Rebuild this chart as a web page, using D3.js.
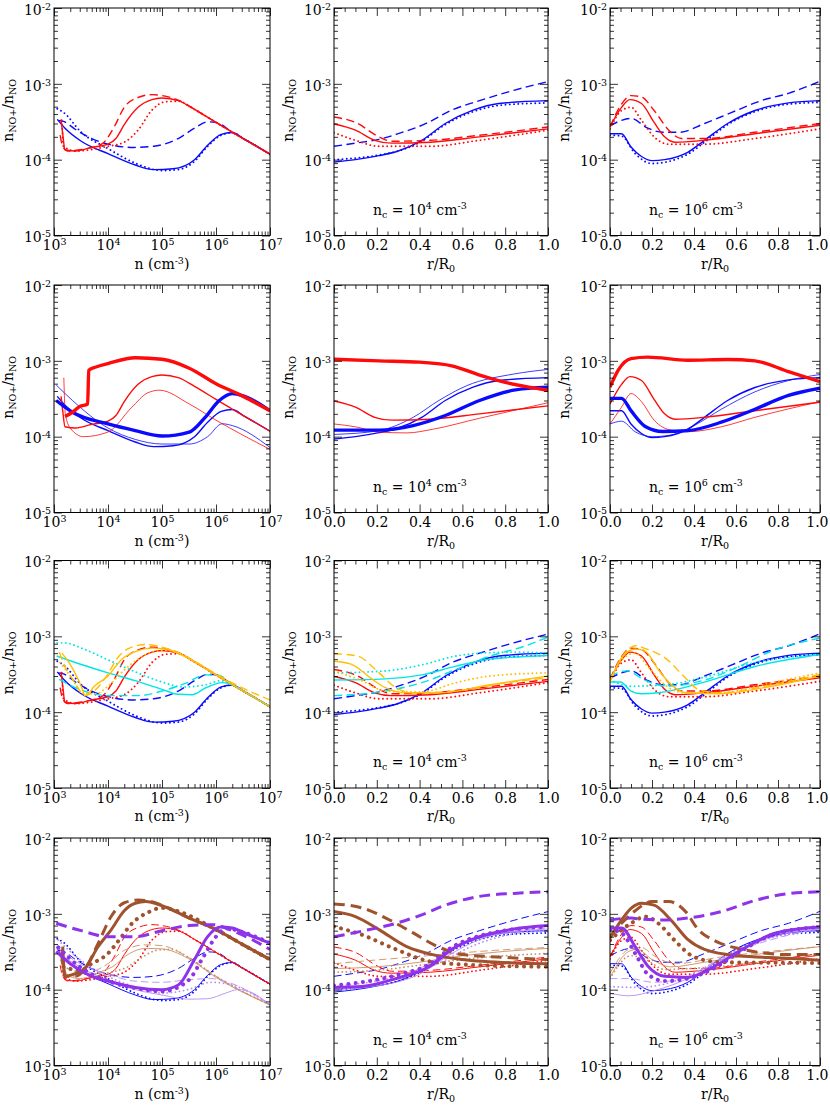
<!DOCTYPE html>
<html>
<head>
<meta charset="utf-8">
<script src="https://cdn.jsdelivr.net/npm/d3@7"></script>
<style>
  body { margin: 0; background: #fff; }
  svg { display: block; }
  text { fill: #000; white-space: pre; }
</style>
</head>
<body>
<div class="chart"></div>
<script>
// ---- data: each curve is a list of [x, n(NO+)/n(NO)] ; order in each trio = solid, dotted, dashed
// x = n (cm^-3) for the density panels, x = r/R0 for the profile panels

// density panels (left column)
const dens_blue = [
  [[1.15e3,3.4e-4],[1.6e3,2.6e-4],[3.2e3,1.75e-4],[1e4,1.2e-4],[3.2e4,8.5e-5],[7e4,7.4e-5],[1.6e5,7.6e-5],[4e5,1e-4],[7e5,1.55e-4],[1.25e6,2.15e-4],[2e6,2.28e-4],[3.2e6,1.9e-4],[1e7,1.18e-4]],
  [[1.15e3,4.7e-4],[1.5e3,4.2e-4],[3.2e3,2.3e-4],[1e4,1.4e-4],[3.2e4,9e-5],[1e5,7.2e-5],[2e5,7.4e-5],[4e5,9.5e-5],[7e5,1.5e-4],[1.25e6,2.1e-4],[2e6,2.27e-4],[3.2e6,1.9e-4],[1e7,1.18e-4]],
  [[1.2e3,3.3e-4],[1.5e3,3.2e-4],[2.5e3,2.5e-4],[5e3,1.9e-4],[1e4,1.6e-4],[3e4,1.45e-4],[7e4,1.5e-4],[2e5,1.9e-4],[4e5,2.6e-4],[7e5,3.15e-4],[1e6,3.1e-4],[2e6,2.3e-4],[3.2e6,1.9e-4],[1e7,1.18e-4]]
];
const dens_red = [
  [[1.35e3,3.4e-4],[1.45e3,2.2e-4],[1.6e3,1.35e-4],[2.5e3,1.3e-4],[5e3,1.45e-4],[1e4,1.6e-4],[1.4e4,1.9e-4],[2e4,2.9e-4],[3.6e4,4.9e-4],[6.5e4,6.2e-4],[1e5,6.5e-4],[2e5,6e-4],[4e5,4.6e-4],[1e6,3.1e-4],[2e6,2.3e-4],[3.2e6,1.9e-4],[1e7,1.18e-4]],
  [[1.4e3,3.3e-4],[1.5e3,1.5e-4],[2.5e3,1.3e-4],[1e4,1.5e-4],[2e4,1.7e-4],[3.6e4,2.45e-4],[6.5e4,4.5e-4],[1.15e5,5.8e-4],[2e5,5.9e-4],[4e5,4.6e-4],[1e6,3.1e-4],[2e6,2.3e-4],[3.2e6,1.9e-4],[1e7,1.18e-4]],
  [[1.3e3,2.1e-4],[1.45e3,1.5e-4],[1.8e3,1.3e-4],[3e3,1.35e-4],[7.6e3,1.6e-4],[1.3e4,2.7e-4],[2e4,4.9e-4],[3.6e4,6.6e-4],[6.5e4,7.2e-4],[1e5,7e-4],[2e5,6.1e-4],[4e5,4.6e-4],[1e6,3.1e-4],[2e6,2.3e-4],[3.2e6,1.9e-4],[1e7,1.18e-4]]
];
const dens_cyan = [
  [[1.12e3,5.5e-4],[3.2e3,4.25e-4],[1e4,3.3e-4],[3.2e4,2.6e-4],[1e5,2e-4],[2e5,1.72e-4],[3.6e5,1.7e-4],[6.5e5,2.1e-4],[1.3e6,2.45e-4],[2e6,2.3e-4],[3.2e6,1.9e-4],[1e7,1.18e-4]],
  [[1.15e3,8.2e-4],[1.6e3,8.2e-4],[3.2e3,7e-4],[1e4,4.9e-4],[3.2e4,3.4e-4],[1e5,2.5e-4],[2.5e5,2.15e-4],[6.5e5,2.3e-4],[1.2e6,2.6e-4],[2e6,2.3e-4],[3.2e6,1.9e-4],[1e7,1.18e-4]],
  [[1.25e3,2.7e-4],[3.6e3,1.9e-4],[1e4,1.65e-4],[3.6e4,1.65e-4],[1e5,1.9e-4],[2.7e5,2.4e-4],[6.5e5,3.1e-4],[1.15e6,3.05e-4],[2e6,2.3e-4],[3.2e6,1.9e-4],[1e7,1.18e-4]]
];
const dens_gold = [
  [[1.4e3,6e-4],[1.9e3,4.5e-4],[3.2e3,2.2e-4],[3.8e3,1.65e-4],[5.6e3,2.2e-4],[1e4,3e-4],[1.8e4,5e-4],[3.2e4,6.3e-4],[6.5e4,7e-4],[1.15e5,6.8e-4],[2.7e5,5.4e-4],[4e5,4.6e-4],[1e6,3.1e-4],[2e6,2.3e-4],[3.2e6,1.9e-4],[1e7,1.18e-4]],
  [[1.3e3,4.5e-4],[2e3,3e-4],[3.6e3,1.75e-4],[6e3,1.75e-4],[1e4,2.2e-4],[2e4,3.6e-4],[3.6e4,5e-4],[6.5e4,6.2e-4],[1.2e5,6.5e-4],[2e5,6e-4],[4e5,4.6e-4],[1e6,3.1e-4],[2e6,2.3e-4],[3.2e6,1.9e-4],[1e7,1.18e-4]],
  [[1.25e3,6.2e-4],[1.6e3,4e-4],[2.5e3,2.4e-4],[3.6e3,1.65e-4],[6e3,2e-4],[1e4,3.2e-4],[1.5e4,5.2e-4],[2.5e4,7e-4],[5e4,7.8e-4],[1e5,7.2e-4],[2e5,6.1e-4],[4e5,4.7e-4],[1e6,3.2e-4],[3e6,2.1e-4],[1e7,1.45e-4]]
];
const dens_blueThin = [[1.1e3,4.8e-4],[2.2e3,3e-4],[1e4,1.3e-4],[3.2e4,9.2e-5],[1e5,8e-5],[3.2e5,8e-5],[7e5,1e-4],[1.3e6,1.48e-4],[2e6,1.4e-4],[1e7,7.2e-5]];
const dens_blueThick = [[1.1e3,3e-4],[2.2e3,2.1e-4],[1e4,1.47e-4],[3.2e4,1.2e-4],[1e5,1.02e-4],[3.2e5,1.15e-4],[6.3e5,1.8e-4],[1.15e6,3e-4],[2e6,3.7e-4],[3.2e6,3.45e-4],[1e7,2.2e-4]];
const dens_redThin = [[1.52e3,6e-4],[1.62e3,2e-4],[2e3,1.3e-4],[3.5e3,1e-4],[1e4,1.15e-4],[2.7e4,2.4e-4],[5.5e4,3.8e-4],[9e4,4.1e-4],[3.2e5,2.7e-4],[1e6,1.65e-4],[1e7,6.8e-5]];
const dens_redThick = [[1.6e3,1.85e-4],[2.2e3,2.1e-4],[3e3,2.5e-4],[4.2e3,2.7e-4],[4.4e3,7.5e-4],[6e3,8.3e-4],[1e4,9.2e-4],[3.2e4,1.1e-3],[1e5,1.05e-3],[3.2e5,8e-4],[1e6,5e-4],[3.2e6,3.4e-4],[1e7,2.2e-4]];
const dens_brown = [
  [[1.45e3,3.7e-4],[1.6e3,1.5e-4],[2.3e3,1.6e-4],[3.6e3,1.85e-4],[6.5e3,3.65e-4],[1.15e4,6.2e-4],[2e4,1.1e-3],[3.2e4,1.38e-3],[5e4,1.45e-3],[1e5,1.28e-3],[3.2e5,8.8e-4],[1e6,6.2e-4],[3.2e6,3.9e-4],[1e7,2.5e-4]],
  [[1.5e3,2e-4],[3e3,1.8e-4],[5e3,2.2e-4],[1e4,3e-4],[1.6e4,4.5e-4],[2.8e4,7.5e-4],[5.6e4,1.05e-3],[1e5,1.2e-3],[2e5,1.08e-3],[1e6,6.2e-4],[3.2e6,3.9e-4],[1e7,2.5e-4]],
  [[1.4e3,3e-4],[1.6e3,1.5e-4],[2.5e3,1.5e-4],[3.6e3,1.8e-4],[6.5e3,4e-4],[1.15e4,9.3e-4],[2e4,1.4e-3],[3.6e4,1.52e-3],[6.5e4,1.45e-3],[1e5,1.3e-3],[3.2e5,8.8e-4],[1e6,6.2e-4],[3.2e6,3.9e-4],[1e7,2.5e-4]]
];
const dens_tan = [
  [[1.3e3,3e-4],[1.6e3,1.6e-4],[3e3,1.4e-4],[7e3,1.7e-4],[1.2e4,2e-4],[2.5e4,3e-4],[5e4,3.5e-4],[1e5,3.45e-4],[3e5,2.6e-4],[1e6,1.45e-4],[1e7,6.3e-5]],
  [[1.5e3,2e-4],[5e3,1.6e-4],[2e4,1.9e-4],[4e4,2.6e-4],[8e4,3.3e-4],[1.5e5,3.4e-4],[3e5,2.7e-4],[1e6,1.5e-4],[1e7,6.3e-5]],
  [[1.3e3,2.5e-4],[2e3,1.5e-4],[5e3,1.7e-4],[1e4,2.2e-4],[2e4,3.3e-4],[5e4,3.9e-4],[1e5,3.8e-4],[3e5,2.7e-4],[1e6,1.5e-4],[1e7,6.3e-5]]
];
const dens_purple = [
  [[1.1e3,3.2e-4],[2e3,2.2e-4],[5e3,1.5e-4],[1e4,1.3e-4],[3.2e4,1.07e-4],[1e5,1e-4],[2e5,1.15e-4],[4e5,2.5e-4],[7e5,5e-4],[1.2e6,6.7e-4],[2e6,6.5e-4],[4e6,5.3e-4],[1e7,4.1e-4]],
  [[1.2e3,3.6e-4],[3e3,2e-4],[1e4,1.3e-4],[3.2e4,1.05e-4],[1e5,9.5e-5],[3e5,1.3e-4],[6e5,2.8e-4],[1e6,5e-4],[1.6e6,6.4e-4],[3e6,5.8e-4],[1e7,4.1e-4]],
  [[1.1e3,7.5e-4],[3.2e3,6e-4],[1e4,5e-4],[3.2e4,5e-4],[1e5,6e-4],[3.2e5,7e-4],[8.7e5,7.2e-4],[2e6,6e-4],[1e7,3.4e-4]]
];
const dens_lilac = [
  [[1.2e3,3e-4],[3e3,2e-4],[1e4,1.3e-4],[3.2e4,1e-4],[1e5,8.5e-5],[3e5,7.5e-5],[7e5,7.6e-5],[1.5e6,9e-5],[2.5e6,1e-4],[4e6,9.5e-5],[1e7,6.3e-5]],
  [[1.2e3,4.5e-4],[3e3,2.5e-4],[1e4,1.5e-4],[3e4,1.1e-4],[1e5,9e-5],[3e5,1e-4],[8e5,1.25e-4],[2e6,1.15e-4],[1e7,6.3e-5]],
  [[1.2e3,3.5e-4],[3e3,2.2e-4],[1e4,1.6e-4],[3e4,1.3e-4],[1e5,1.25e-4],[3e5,1.35e-4],[8e5,1.4e-4],[2e6,1.2e-4],[1e7,6.3e-5]]
];

// profile panels, n_c = 1e4 cm^-3 (middle column)
const nc4_blue = [
  [[0,9.3e-5],[0.1,1e-4],[0.21,1.13e-4],[0.3,1.3e-4],[0.41,1.8e-4],[0.52,3e-4],[0.65,4.5e-4],[0.77,5.5e-4],[1,6e-4]],
  [[0,1e-4],[0.1,1.05e-4],[0.21,1.15e-4],[0.3,1.3e-4],[0.41,1.75e-4],[0.52,2.9e-4],[0.65,4.3e-4],[0.8,5.3e-4],[1,5.6e-4]],
  [[0,1.5e-4],[0.1,1.65e-4],[0.21,1.85e-4],[0.3,2.2e-4],[0.43,3e-4],[0.55,4.5e-4],[0.68,6e-4],[0.84,8.2e-4],[1,1.07e-3]]
];
const nc4_red = [
  [[0,2.95e-4],[0.1,2.45e-4],[0.19,1.8e-4],[0.27,1.65e-4],[0.45,1.7e-4],[0.68,2e-4],[1,2.55e-4]],
  [[0,2.27e-4],[0.1,1.8e-4],[0.21,1.5e-4],[0.45,1.5e-4],[0.68,1.8e-4],[1,2.45e-4]],
  [[0,3.65e-4],[0.1,3.1e-4],[0.21,2e-4],[0.27,1.75e-4],[0.45,1.8e-4],[0.68,2.1e-4],[1,2.7e-4]]
];
const nc4_cyan = [
  [[0,2.65e-4],[0.24,2.75e-4],[0.41,3.1e-4],[0.57,4.05e-4],[0.73,5e-4],[1,5.6e-4]],
  [[0,3.3e-4],[0.24,3.5e-4],[0.41,4.2e-4],[0.57,5.5e-4],[0.73,6.1e-4],[0.85,6.2e-4],[1,6e-4]],
  [[0,1.65e-4],[0.24,1.9e-4],[0.41,2.45e-4],[0.57,3.65e-4],[0.73,5.5e-4],[0.89,7.4e-4],[1,9.8e-4]]
];
const nc4_gold = [
  [[0,4.7e-4],[0.08,4.3e-4],[0.18,2.7e-4],[0.24,2.1e-4],[0.33,1.8e-4],[0.49,1.8e-4],[0.73,2.3e-4],[1,3e-4]],
  [[0,3.5e-4],[0.13,2.6e-4],[0.24,1.9e-4],[0.41,1.85e-4],[0.57,2.45e-4],[0.73,3e-4],[1,3.3e-4]],
  [[0,5.9e-4],[0.11,5.5e-4],[0.21,3.3e-4],[0.29,2.1e-4],[0.37,1.8e-4],[0.57,1.9e-4],[0.81,2.45e-4],[1,2.85e-4]]
];
const nc4_blueThin = [[0,1.07e-4],[0.21,1.2e-4],[0.37,1.8e-4],[0.49,3e-4],[0.62,4.7e-4],[0.84,6.7e-4],[1,7.7e-4]];
const nc4_blueThick = [[0,1.22e-4],[0.21,1.22e-4],[0.37,1.4e-4],[0.52,1.9e-4],[0.68,3e-4],[0.84,4.1e-4],[1,4.5e-4]];
const nc4_redThin = [[0,1.47e-4],[0.1,1.35e-4],[0.21,1.15e-4],[0.34,1.12e-4],[0.46,1.25e-4],[0.68,1.75e-4],[1,2.8e-4]];
const nc4_redThick = [[0,1.05e-3],[0.21,1e-3],[0.4,9.6e-4],[0.55,8.6e-4],[0.68,6.5e-4],[0.8,5.2e-4],[0.91,4.5e-4],[1,4.1e-4]];
const nc4_brown = [
  [[0,1.07e-3],[0.1,9.2e-4],[0.21,6.2e-4],[0.34,3.7e-4],[0.46,2.9e-4],[0.6,2.5e-4],[0.84,2.25e-4],[1,2.2e-4]],
  [[0,6.8e-4],[0.13,5.3e-4],[0.29,3.4e-4],[0.45,2.35e-4],[0.6,2.15e-4],[1,2e-4]],
  [[0,1.35e-3],[0.13,1.2e-3],[0.26,8.3e-4],[0.37,5.6e-4],[0.48,3.75e-4],[0.6,2.9e-4],[0.76,2.7e-4],[1,2.5e-4]]
];
const nc4_tan = [
  [[0,1.9e-4],[0.2,2e-4],[0.4,2.3e-4],[0.6,2.8e-4],[0.8,3.2e-4],[1,3.5e-4]],
  [[0,1.7e-4],[0.2,1.8e-4],[0.4,2.1e-4],[0.6,2.5e-4],[0.8,2.8e-4],[1,3e-4]],
  [[0,2.2e-4],[0.15,2.4e-4],[0.3,2.6e-4],[0.5,2.9e-4],[0.75,3.3e-4],[1,3.6e-4]]
];
const nc4_purple = [
  [[0,1.07e-4],[0.13,1.1e-4],[0.29,1.4e-4],[0.45,2.05e-4],[0.55,3.4e-4],[0.68,5e-4],[0.84,6.3e-4],[1,7e-4]],
  [[0,1.13e-4],[0.29,1.55e-4],[0.45,2.2e-4],[0.55,3.6e-4],[0.7,5.3e-4],[1,6.8e-4]],
  [[0,5e-4],[0.13,5.9e-4],[0.29,7.5e-4],[0.41,9.7e-4],[0.52,1.3e-3],[0.68,1.7e-3],[0.84,1.86e-3],[1,1.95e-3]]
];
const nc4_lilac = [
  [[0,1e-4],[0.2,1.12e-4],[0.4,1.6e-4],[0.55,3e-4],[0.7,4.8e-4],[0.85,5.8e-4],[1,6.3e-4]],
  [[0,1.1e-4],[0.2,1.3e-4],[0.35,1.6e-4],[0.5,2.3e-4],[0.65,3.8e-4],[0.85,5.5e-4],[1,6e-4]],
  [[0,1.05e-4],[0.2,1.2e-4],[0.4,1.9e-4],[0.55,3.3e-4],[0.7,5e-4],[1,6.5e-4]]
];

// profile panels, n_c = 1e6 cm^-3 (right column)
const nc6_blue = [
  [[0,2.2e-4],[0.055,2.2e-4],[0.1,1.47e-4],[0.15,1.1e-4],[0.2,9.7e-5],[0.26,1e-4],[0.37,1.25e-4],[0.45,1.8e-4],[0.56,3e-4],[0.69,4.45e-4],[0.85,5.6e-4],[1,6e-4]],
  [[0,2.1e-4],[0.055,2.05e-4],[0.12,1.2e-4],[0.2,8.9e-5],[0.37,1.18e-4],[0.45,1.7e-4],[0.56,2.9e-4],[0.69,4.3e-4],[0.85,5.4e-4],[1,5.7e-4]],
  [[0,2.8e-4],[0.055,3.3e-4],[0.1,3.5e-4],[0.18,2.6e-4],[0.25,2.3e-4],[0.33,2.3e-4],[0.45,3e-4],[0.58,4.2e-4],[0.72,6e-4],[0.85,7.5e-4],[1,1.08e-3]]
];
const nc6_red = [
  [[0,2.7e-4],[0.055,4.9e-4],[0.095,6.2e-4],[0.15,5.5e-4],[0.21,3.1e-4],[0.26,2e-4],[0.31,1.7e-4],[0.45,1.8e-4],[0.69,2.2e-4],[1,2.85e-4]],
  [[0,2.55e-4],[0.055,4.45e-4],[0.1,4.9e-4],[0.15,3.3e-4],[0.21,2e-4],[0.28,1.6e-4],[0.45,1.6e-4],[0.69,1.9e-4],[1,2.55e-4]],
  [[0,2.7e-4],[0.055,5.4e-4],[0.1,7e-4],[0.15,6.7e-4],[0.21,4.45e-4],[0.28,2.45e-4],[0.34,1.9e-4],[0.45,1.9e-4],[0.69,2.3e-4],[1,3e-4]]
];
const nc6_cyan = [
  [[0,2.5e-4],[0.05,2.5e-4],[0.1,1.9e-4],[0.15,1.75e-4],[0.23,1.8e-4],[0.44,2.45e-4],[0.69,4e-4],[1,5.75e-4]],
  [[0,2.65e-4],[0.1,2.2e-4],[0.27,2.3e-4],[0.44,2.85e-4],[0.69,4.5e-4],[1,5.75e-4]],
  [[0,3e-4],[0.08,3.5e-4],[0.17,2.6e-4],[0.27,2.2e-4],[0.44,2.6e-4],[0.6,3.85e-4],[0.77,6.4e-4],[1,9.5e-4]]
];
const nc6_gold = [
  [[0,2.5e-4],[0.05,4.95e-4],[0.12,6.8e-4],[0.17,6.3e-4],[0.23,3.65e-4],[0.3,2.2e-4],[0.37,1.8e-4],[0.52,1.75e-4],[0.77,2.2e-4],[1,3e-4]],
  [[0,2.6e-4],[0.06,5e-4],[0.12,6e-4],[0.18,4e-4],[0.27,2.2e-4],[0.35,1.8e-4],[0.52,1.8e-4],[0.77,2.45e-4],[1,3.3e-4]],
  [[0,2.6e-4],[0.06,5.5e-4],[0.12,7.5e-4],[0.18,6.7e-4],[0.27,5e-4],[0.35,3e-4],[0.42,2e-4],[0.52,1.8e-4],[0.77,2.3e-4],[1,3.15e-4]]
];
const nc6_blueThin = [[0,1.47e-4],[0.055,1.6e-4],[0.12,1.16e-4],[0.2,1e-4],[0.29,1.05e-4],[0.4,1.4e-4],[0.53,2.3e-4],[0.69,3.9e-4],[0.85,5.5e-4],[1,6.6e-4]];
const nc6_blueThick = [[0,3.2e-4],[0.055,3.2e-4],[0.1,2.2e-4],[0.17,1.35e-4],[0.25,1.17e-4],[0.37,1.2e-4],[0.53,1.55e-4],[0.69,2.3e-4],[0.85,3.5e-4],[1,4.35e-4]];
const nc6_redThin = [[0,1.47e-4],[0.055,2.45e-4],[0.1,3.7e-4],[0.15,2.9e-4],[0.21,1.65e-4],[0.29,1.22e-4],[0.37,1.16e-4],[0.53,1.35e-4],[0.69,1.8e-4],[1,2.9e-4]];
const nc6_redThick = [[0,4.5e-4],[0.04,7.6e-4],[0.1,1.07e-3],[0.18,1.12e-3],[0.37,1.02e-3],[0.56,1.04e-3],[0.69,1e-3],[0.85,7.2e-4],[1,5.3e-4]];
const nc6_brown = [
  [[0,4.8e-4],[0.055,8.3e-4],[0.1,1.18e-3],[0.15,1.38e-3],[0.21,1.3e-3],[0.29,8.3e-4],[0.37,4.6e-4],[0.45,3.4e-4],[0.61,2.8e-4],[0.85,2.6e-4],[1,2.45e-4]],
  [[0,4.5e-4],[0.1,7.5e-4],[0.17,9.2e-4],[0.23,7.5e-4],[0.31,4.4e-4],[0.4,2.7e-4],[0.53,2.3e-4],[1,2.25e-4]],
  [[0,5e-4],[0.055,7.5e-4],[0.12,1.1e-3],[0.2,1.45e-3],[0.28,1.45e-3],[0.36,1.07e-3],[0.42,6.2e-4],[0.5,4.4e-4],[0.63,3.4e-4],[0.85,2.9e-4],[1,2.9e-4]]
];
const nc6_tan = [
  [[0,1.45e-4],[0.09,3.2e-4],[0.13,3.4e-4],[0.2,2.5e-4],[0.29,2e-4],[0.45,2.3e-4],[0.69,2.9e-4],[1,3.7e-4]],
  [[0,1.4e-4],[0.1,2.8e-4],[0.17,2.5e-4],[0.26,1.85e-4],[0.45,1.95e-4],[1,2.9e-4]],
  [[0,1.65e-4],[0.09,3.4e-4],[0.15,3.6e-4],[0.21,2.8e-4],[0.31,2.2e-4],[0.53,2.7e-4],[1,3.7e-4]]
];
const nc6_purple = [
  [[0,6.5e-4],[0.055,6.5e-4],[0.12,3.7e-4],[0.18,2.05e-4],[0.26,1.5e-4],[0.37,1.45e-4],[0.5,2.05e-4],[0.63,3.4e-4],[0.79,5.6e-4],[1,6.7e-4]],
  [[0,6.2e-4],[0.055,5.6e-4],[0.12,3e-4],[0.18,1.6e-4],[0.26,1.3e-4],[0.37,1.4e-4],[0.5,1.95e-4],[0.63,3.3e-4],[0.79,5.5e-4],[1,6.7e-4]],
  [[0,8.3e-4],[0.1,8.8e-4],[0.15,8.5e-4],[0.26,8.3e-4],[0.37,8.8e-4],[0.53,1.07e-3],[0.69,1.5e-3],[0.85,1.85e-3],[1,1.95e-3]]
];
const nc6_lilac = [
  [[0,9e-5],[0.09,8.3e-5],[0.21,9.7e-5],[0.37,1.4e-4],[0.53,2.5e-4],[0.69,4.1e-4],[0.85,5.6e-4],[1,6.3e-4]],
  [[0,1.1e-4],[0.13,1.07e-4],[0.29,1.25e-4],[0.45,1.95e-4],[0.61,3.4e-4],[1,6.2e-4]],
  [[0,1.4e-4],[0.09,1.4e-4],[0.21,1.25e-4],[0.37,1.5e-4],[0.53,2.6e-4],[1,6.5e-4]]
];

// tick values
const yMajor = [1e-5, 1e-4, 1e-3, 1e-2];
const nMajor = [1e3, 1e4, 1e5, 1e6, 1e7];
const rMajor = [0, 0.2, 0.4, 0.6, 0.8, 1.0];
const ncExp = [null, "4", "6"];

// ---- layout
var width = 830, height = 1107;
var colX = [[54, 270], [334, 548], [610, 820]];
var rowTop = [8, 285, 560.5, 838];
var ph = 227.5;
var fs = 14, fsSmall = 9.5;
var serif = "DejaVu Serif, serif";
var col = { blue: "#0a0aff", red: "#ff0a0a", cyan: "#00e6e6", gold: "#ffbf00",
            brown: "#a0522d", tan: "#c98f66", purple: "#8e33ea", lilac: "#b98cf0" };
var kinds = ["solid", "dot", "dash"];

var svg = d3.select(".chart").append("svg")
  .attr("width", width).attr("height", height)
  .attr("font-family", serif);

function trio(sets, color, w) {
  return sets.map(function(pts, i) { return { pts: pts, color: color, w: w, kind: kinds[i] }; });
}
function one(pts, color, w) { return [{ pts: pts, color: color, w: w, kind: "solid" }]; }

var blueSets = [dens_blue, nc4_blue, nc6_blue], redSets = [dens_red, nc4_red, nc6_red];
var cyanSets = [dens_cyan, nc4_cyan, nc6_cyan], goldSets = [dens_gold, nc4_gold, nc6_gold];
var brownSets = [dens_brown, nc4_brown, nc6_brown], tanSets = [dens_tan, nc4_tan, nc6_tan];
var purpleSets = [dens_purple, nc4_purple, nc6_purple], lilacSets = [dens_lilac, nc4_lilac, nc6_lilac];
var blueThin = [dens_blueThin, nc4_blueThin, nc6_blueThin], blueThick = [dens_blueThick, nc4_blueThick, nc6_blueThick];
var redThin = [dens_redThin, nc4_redThin, nc6_redThin], redThick = [dens_redThick, nc4_redThick, nc6_redThick];

function seriesFor(row, c) {
  if (row === 0) return [].concat(trio(blueSets[c], col.blue, 1.4), trio(redSets[c], col.red, 1.4));
  if (row === 1) return [].concat(
    one(blueThin[c], col.blue, 0.8), one(blueSets[c][0], col.blue, 1.4),
    one(redThin[c], col.red, 0.8), one(redSets[c][0], col.red, 1.4),
    one(blueThick[c], col.blue, 3.4), one(redThick[c], col.red, 3.4));
  if (row === 2) return [].concat(trio(blueSets[c], col.blue, 1.4), trio(redSets[c], col.red, 1.4),
    trio(cyanSets[c], col.cyan, 1.4), trio(goldSets[c], col.gold, 1.4));
  return [].concat(trio(blueSets[c], col.blue, 1.0), trio(redSets[c], col.red, 1.0),
    trio(tanSets[c], col.tan, 0.9), trio(lilacSets[c], col.lilac, 0.9),
    trio(brownSets[c], col.brown, 3.0), trio(purpleSets[c], col.purple, 3.0));
}

function logMinors(lo, hi) {
  var out = [];
  for (var k = lo; k < hi; k++) for (var d = 2; d <= 9; d++) out.push(d * Math.pow(10, k));
  return out;
}

function supLabel(sel, base, exp) {
  sel.text(base);
  sel.append("tspan").attr("dy", -5).attr("font-size", fsSmall).text(exp);
}

function styleAxis(g) {
  g.select(".domain").remove();
  g.selectAll(".tick line").attr("stroke", "#000").attr("stroke-width", 0.8);
  g.attr("font-family", serif).attr("font-size", fs);
}

function drawPanel(row, c) {
  var x0 = colX[c][0], x1 = colX[c][1];
  var y0 = rowTop[row], y1 = y0 + ph;
  var isLog = c === 0;
  var x = isLog ? d3.scaleLog().domain([1e3, 1e7]).range([x0, x1])
                : d3.scaleLinear().domain([0, 1]).range([x0, x1]);
  var y = d3.scaleLog().domain([1e-5, 1e-2]).range([y1, y0]);
  var id = "clip" + row + c;

  svg.append("clipPath").attr("id", id).append("rect")
    .attr("x", x0).attr("y", y0).attr("width", x1 - x0).attr("height", ph);

  var line = d3.line().x(function(d) { return x(d[0]); }).y(function(d) { return y(d[1]); })
    .curve(d3.curveMonotoneX);

  var g = svg.append("g").attr("clip-path", "url(#" + id + ")");
  seriesFor(row, c).forEach(function(s) {
    var p = g.append("path").datum(s.pts).attr("d", line)
      .attr("fill", "none").attr("stroke", s.color);
    if (s.kind === "dot") {
      var dw = Math.max(s.w * 1.35, 1.8);
      p.attr("stroke-width", dw).attr("stroke-linecap", "round")
       .attr("stroke-dasharray", "0.01," + (dw * 1.4 + 1.6).toFixed(2));
    } else if (s.kind === "dash") {
      p.attr("stroke-width", s.w).attr("stroke-dasharray", (6 + s.w * 1.6).toFixed(1) + "," + (3 + s.w).toFixed(1));
    } else {
      p.attr("stroke-width", s.w).attr("stroke-linejoin", "round");
    }
  });

  // frame
  svg.append("rect").attr("x", x0).attr("y", y0).attr("width", x1 - x0).attr("height", ph)
    .attr("fill", "none").attr("stroke", "#000").attr("stroke-width", 1);

  var yMinor = logMinors(-5, -2);
  var xMinor = isLog ? logMinors(3, 7) : d3.range(1, 20).filter(function(i) { return i % 4; }).map(function(i) { return i * 0.05; });
  var xMaj = isLog ? nMajor : rMajor;

  // left axis with labels
  svg.append("g").attr("transform", "translate(" + x0 + ",0)")
    .call(d3.axisLeft(y).tickValues(yMajor).tickSize(-8).tickPadding(3).tickFormat(function() { return ""; }))
    .call(styleAxis)
    .selectAll(".tick text").attr("dy", "0.45em").each(function(d) {
      supLabel(d3.select(this), "10", String(Math.round(Math.log10(d))));
    });
  svg.append("g").attr("transform", "translate(" + x0 + ",0)")
    .call(d3.axisLeft(y).tickValues(yMinor).tickSize(-4).tickFormat(""))
    .call(styleAxis);
  // right axis
  svg.append("g").attr("transform", "translate(" + x1 + ",0)")
    .call(d3.axisRight(y).tickValues(yMajor).tickSize(-8).tickFormat(""))
    .call(styleAxis);
  svg.append("g").attr("transform", "translate(" + x1 + ",0)")
    .call(d3.axisRight(y).tickValues(yMinor).tickSize(-4).tickFormat(""))
    .call(styleAxis);
  // bottom axis with labels
  var bottom = svg.append("g").attr("transform", "translate(0," + y1 + ")")
    .call(d3.axisBottom(x).tickValues(xMaj).tickSize(-8).tickPadding(5)
      .tickFormat(isLog ? function() { return ""; } : d3.format(".1f")))
    .call(styleAxis);
  if (isLog) {
    bottom.selectAll(".tick text").each(function(d) {
      supLabel(d3.select(this), "10", String(Math.round(Math.log10(d))));
    });
  }
  // keep the last label of the right column inside the page
  if (c === 2) bottom.selectAll(".tick text").filter(function(d) { return d === 1; })
    .attr("text-anchor", "end").attr("dx", 8);
  svg.append("g").attr("transform", "translate(0," + y1 + ")")
    .call(d3.axisBottom(x).tickValues(xMinor).tickSize(-4).tickFormat(""))
    .call(styleAxis);
  // top axis
  svg.append("g").attr("transform", "translate(0," + y0 + ")")
    .call(d3.axisTop(x).tickValues(xMaj).tickSize(-8).tickFormat(""))
    .call(styleAxis);
  svg.append("g").attr("transform", "translate(0," + y0 + ")")
    .call(d3.axisTop(x).tickValues(xMinor).tickSize(-4).tickFormat(""))
    .call(styleAxis);

  // axis titles
  var xt = svg.append("text").attr("x", (x0 + x1) / 2).attr("y", y1 + 33)
    .attr("text-anchor", "middle").attr("font-size", fs);
  if (isLog) {
    xt.text("n (cm");
    xt.append("tspan").attr("dy", -5).attr("font-size", fsSmall).text("-3");
    xt.append("tspan").attr("dy", 5).text(")");
  } else {
    xt.text("r/R");
    xt.append("tspan").attr("dy", 3).attr("font-size", fsSmall).text("0");
  }

  var yt = svg.append("text")
    .attr("transform", "translate(" + (x0 - 41) + "," + (y0 + ph * 0.45) + ") rotate(-90)")
    .attr("text-anchor", "middle").attr("font-size", fs);
  yt.text("n");
  yt.append("tspan").attr("dy", 3).attr("font-size", fsSmall).text("NO+");
  yt.append("tspan").attr("dy", -3).text("/n");
  yt.append("tspan").attr("dy", 3).attr("font-size", fsSmall).text("NO");

  if (!isLog) {
    var lab = svg.append("text").attr("x", x0 + 39).attr("y", y1 - 21).attr("font-size", fs);
    lab.text("n");
    lab.append("tspan").attr("dy", 3).attr("font-size", fsSmall).text("c");
    lab.append("tspan").attr("dy", -3).text(" = 10");
    lab.append("tspan").attr("dy", -6).attr("font-size", fsSmall).text(ncExp[c]);
    lab.append("tspan").attr("dy", 6).text(" cm");
    lab.append("tspan").attr("dy", -6).attr("font-size", fsSmall).text("-3");
  }
}

for (var r = 0; r < 4; r++) for (var c = 0; c < 3; c++) drawPanel(r, c);
</script>
</body>
</html>
